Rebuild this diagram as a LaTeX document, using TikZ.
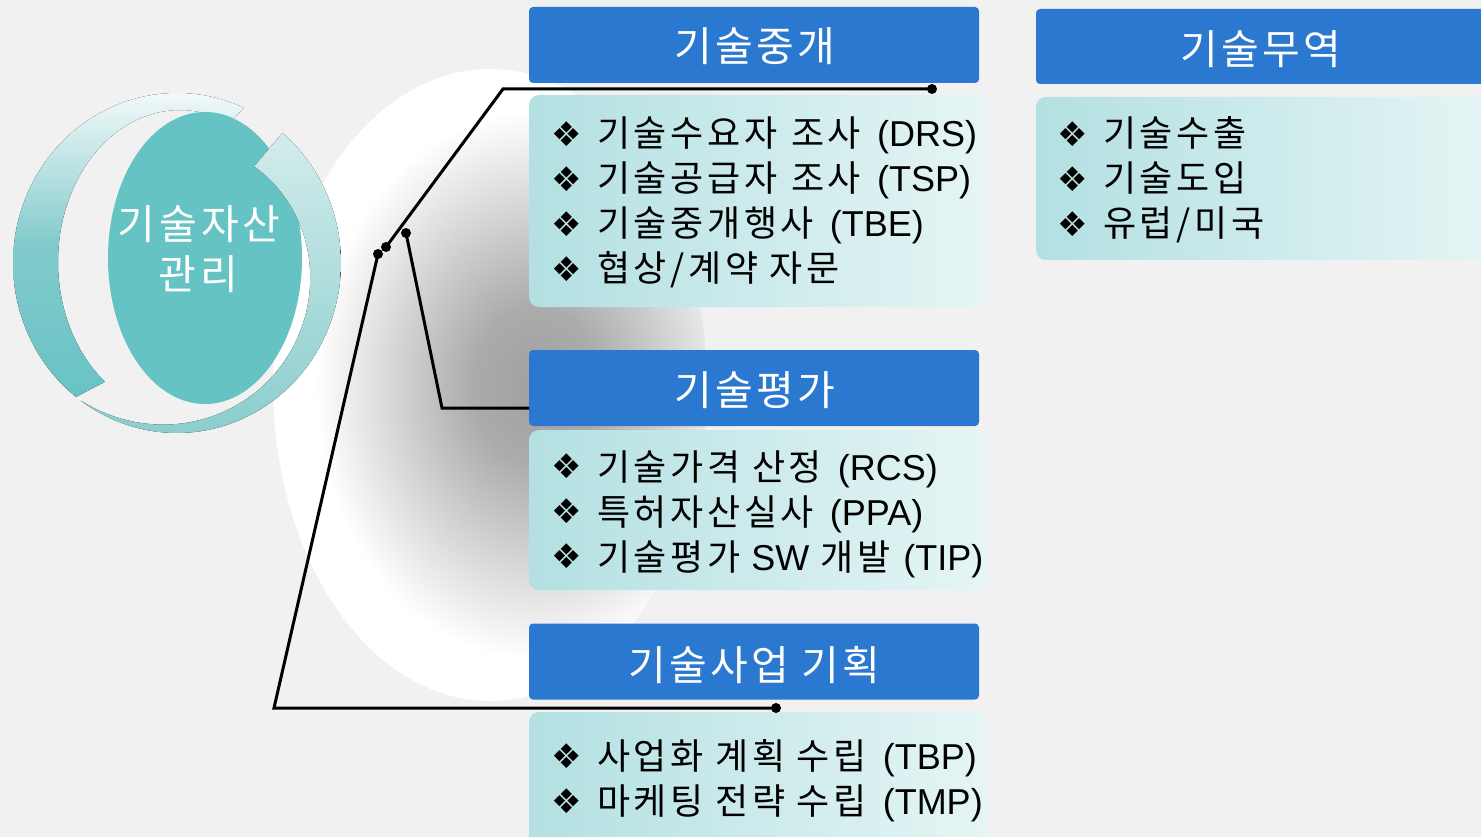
\documentclass[tikz,border=0pt]{standalone}
\usepackage{fontspec}
\setmainfont{Liberation Sans}
\newfontfamily\kr[LetterSpace=10]{Noto Sans CJK KR}
\newfontfamily\krh[LetterSpace=8]{Noto Sans CJK KR}
\newfontfamily\symf{DejaVu Sans}
\newcommand{\lsp}{\hspace{16pt}}
\newcommand{\ksp}{\hspace{14pt}}
\definecolor{bgc}{HTML}{F1F1F1}
\definecolor{hblue}{HTML}{2B78D0}
\definecolor{bodyL}{HTML}{B3E0E2}
\definecolor{bodyR}{HTML}{E6F5F5}
\definecolor{tealc}{HTML}{66C3C4}
\definecolor{ringLt}{HTML}{F2F9F9}
\definecolor{ringLm}{HTML}{82CACC}
\definecolor{ringLb}{HTML}{68C3C4}
\definecolor{ringRt}{HTML}{D2ECEC}
\definecolor{ringRb}{HTML}{8CCDCD}
\pgfdeclareradialshading{ovalgray}{\pgfpoint{0bp}{0bp}}{color(0bp)=(black!37); color(7bp)=(black!33); color(25bp)=(white); color(50bp)=(white)}
\begin{document}
\begin{tikzpicture}[x=1pt,y=-1pt,
  hdr/.style={fill=hblue, rounded corners=4pt, inner sep=0pt, minimum width=450pt, minimum height=76pt},
  bodybox/.style={left color=bodyL, right color=bodyR, rounded corners=10pt, inner sep=0pt, minimum width=458pt},
  hdrtext/.style={text=white, font=\krh\fontsize{41}{41}\selectfont, anchor=base, inner sep=0pt},
  coretext/.style={text=white, font=\kr\fontsize{41}{41}\selectfont, anchor=base, inner sep=0pt},
  bul/.style={font=\symf\fontsize{34}{34}\selectfont, inner sep=0pt},
  itm/.style={font=\fontsize{36}{36}\selectfont, anchor=base west, inner sep=0pt},
  conn/.style={line width=3pt, black},
  dotn/.style={circle, fill=black, inner sep=0pt, minimum size=10pt}]

\useasboundingbox (0,0) rectangle (1481,837);
\fill[bgc] (0,0) rectangle (1481,837);

% white oval with gray shadow
\begin{scope}
  \clip (490,385) ellipse [x radius=217pt, y radius=316pt];
  \fill[white] (490,385) ellipse [x radius=217pt, y radius=316pt];
  \shade[shading=ovalgray] (535,385) ellipse [x radius=220pt, y radius=275pt];
\end{scope}

% circular arrow ring: left piece
\fill[top color=ringLt, bottom color=ringLb, middle color=ringLm]
  plot[domain=232:66, samples=80] ({177+164*cos(\x)}, {263-170*sin(\x)})
  -- plot[domain=66:232, samples=80] ({180+122*cos(\x)}, {262-152*sin(\x)}) -- cycle;

% central ellipse
\fill[tealc] (205,258) ellipse [x radius=97pt, y radius=146pt];

% circular arrow ring: right piece
\fill[top color=ringRt, bottom color=ringRb]
  plot[domain=50:-126, samples=80] ({177+164*cos(\x)}, {263-170*sin(\x)})
  -- plot[domain=-126:50, samples=80] ({177+(164-44*(\x+126)/176)*cos(\x)}, {263-(170-44*(\x+126)/176)*sin(\x)}) -- cycle;

\node[coretext] (core1) at (199,240) {기술자산};
\node[coretext] (core2) at (198,290) {관리};

% headers
\node[hdr] (h1) at (754,45) {};
\node[hdr] (h2) at (754,388) {};
\node[hdr] (h3) at (754,661.5) {};
\node[hdr, minimum width=454pt, minimum height=75pt] (h4) at (1263,46.5) {};
\node[hdrtext] (t1) at (755,62) {기술중개};
\node[hdrtext] (t2) at (755,405) {기술평가};
\node[hdrtext] (t3) at (754,680) {기술사업 기획};
\node[hdrtext] (t4) at (1261,65) {기술무역};

% bodies
\node[bodybox, minimum height=212pt] (b1) at (758,201) {};
\node[bodybox, minimum height=160pt] (b2) at (758,510) {};
\node[bodybox, minimum height=140pt] (b3) at (758,782) {};
\node[bodybox, minimum width=460pt, minimum height=163pt] (b4) at (1266,178.5) {};

% box 1 items
\node[bul] (p11) at (567,134) {❖};
\node[itm] (i11) at (597,147) {{\kr 기술수요자\ksp 조사}\lsp(DRS)};
\node[bul] (p12) at (567,179) {❖};
\node[itm] (i12) at (597,192) {{\kr 기술공급자\ksp 조사}\lsp(TSP)};
\node[bul] (p13) at (567,224) {❖};
\node[itm] (i13) at (597,237) {{\kr 기술중개행사}\lsp(TBE)};
\node[bul] (p14) at (567,269) {❖};
\node[itm] (i14) at (597,282) {{\kr 협상/계약 자문}};

% box 2 items
\node[bul] (p21) at (567,466) {❖};
\node[itm] (i21) at (597,480) {{\kr 기술가격 산정}\lsp(RCS)};
\node[bul] (p22) at (567,511) {❖};
\node[itm] (i22) at (597,525) {{\kr 특허자산실사}\lsp(PPA)};
\node[bul] (p23) at (567,556) {❖};
\node[itm] (i23) at (597,570) {{\kr 기술평가}\hspace{11pt}SW\hspace{11pt}{\kr 개발}\hspace{13pt}(TIP)};

% box 3 items
\node[bul] (p31) at (567,756) {❖};
\node[itm] (i31) at (597,769) {{\kr 사업화 계획 수립}\lsp(TBP)};
\node[bul] (p32) at (567,801) {❖};
\node[itm] (i32) at (597,814) {{\kr 마케팅 전략 수립}\lsp(TMP)};

% box 4 items
\node[bul] (p41) at (1073,134) {❖};
\node[itm] (i41) at (1103,147) {{\kr 기술수출}};
\node[bul] (p42) at (1073,179) {❖};
\node[itm] (i42) at (1103,192) {{\kr 기술도입}};
\node[bul] (p43) at (1073,224) {❖};
\node[itm] (i43) at (1103,237) {{\kr 유럽/미국}};

% connectors
\node[dotn] (d1) at (386,247) {};
\node[dotn] (d2) at (406,233) {};
\node[dotn] (d3) at (378,254) {};
\node[dotn] (e1) at (932,89) {};
\node[dotn] (e3) at (776,708) {};
\coordinate (e2) at (529,408);

\draw[conn] (d1.center) -- (503,89) -- (e1.center);
\draw[conn] (d2.center) -- (442,408) -- (e2);
\draw[conn] (d3.center) -- (274,708) -- (e3.center);
\end{tikzpicture}
\end{document}
